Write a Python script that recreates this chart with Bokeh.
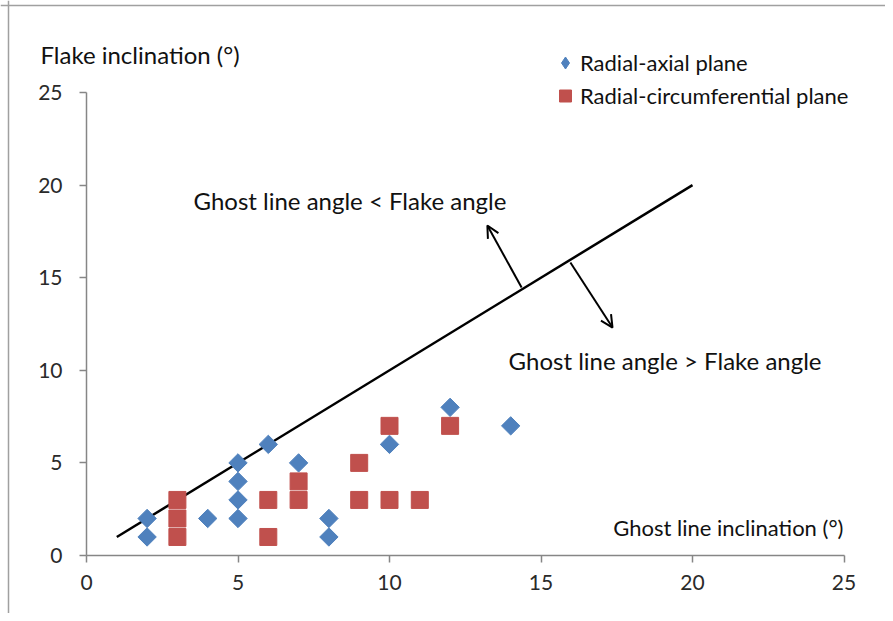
from bokeh.plotting import figure
from bokeh.models import (Range1d, Label, Arrow, OpenHead, Legend, LegendItem,
                          FixedTicker, LinearAxis, Span)
from bokeh.embed import file_html
from bokeh.resources import INLINE

# Data
axial_x = [2, 2, 4, 5, 5, 5, 5, 6, 7, 8, 8, 10, 12, 14]
axial_y = [1, 2, 2, 2, 3, 4, 5, 6, 5, 1, 2, 6, 8, 7]
circ_x = [3, 3, 3, 6, 6, 7, 7, 9, 9, 10, 10, 11, 12]
circ_y = [1, 2, 3, 1, 3, 3, 4, 3, 5, 3, 7, 3, 7]
line_x = [1, 20]
line_y = [1, 20]
x_ticks = [0, 5, 10, 15, 20, 25]
y_ticks = [0, 5, 10, 15, 20, 25]

BLUE = "#4F81BD"
RED = "#C0504D"
FONT = "Lato"
W, H = 885, 613
# frame covers the whole canvas; axes are placed at data 0 inside it
x0_px, xpu = 86.0, 30.3      # canvas x of data 0, px per unit
y0_px, ypu = 555.0, 18.52    # canvas y of data 0, px per unit
x_start = -x0_px / xpu
x_end = (W - x0_px) / xpu
y_start = -(H - y0_px) / ypu
y_end = y0_px / ypu

p = figure(width=W, height=H, x_range=Range1d(x_start, x_end), y_range=Range1d(y_start, y_end),
           output_backend="svg", toolbar_location=None,
           x_axis_location=None, y_axis_location=None,
           min_border=0)
p.grid.visible = False
p.outline_line_color = None
p.background_fill_color = "white"
p.border_fill_color = "white"

xax = LinearAxis(fixed_location=0, bounds=(0, 25), ticker=FixedTicker(ticks=x_ticks))
yax = LinearAxis(fixed_location=0, bounds=(0, 25), ticker=FixedTicker(ticks=y_ticks))
for ax in (xax, yax):
    ax.axis_line_color = "#868686"
    ax.axis_line_width = 1.5
    ax.major_tick_line_color = "#868686"
    ax.major_tick_line_width = 1.5
    ax.minor_tick_line_color = None
    ax.major_tick_in = 0
    ax.major_tick_out = 7
    ax.major_label_text_font = FONT
    ax.major_label_text_font_size = "21px"
    ax.major_label_text_color = "#2a2a2a"
xax.major_label_standoff = 12
yax.major_label_standoff = 17
p.add_layout(xax, "below")
p.add_layout(yax, "left")

# screenshot frame (top and left edges)
p.add_layout(Span(location=(y0_px - 5) / ypu, dimension="width", line_color="#a0a0a0", line_width=1.5))
p.add_layout(Span(location=(8 - x0_px) / xpu, dimension="height", line_color="#a0a0a0", line_width=1.5))

p.line(line_x, line_y, line_color="black", line_width=2.5)
p.scatter(axial_x, axial_y, marker="square", angle=0.785398, size=13,
          fill_color=BLUE, line_color=BLUE)
p.scatter(circ_x, circ_y, marker="square", size=17, fill_color=RED, line_color=RED)

# legend-only renderers (a single undrawable NaN point) so the legend shows a diamond and a square
nan = float("nan")
lg1 = p.scatter([nan], [nan], marker="diamond", fill_color=BLUE, line_color=BLUE)
lg2 = p.scatter([nan], [nan], marker="square", fill_color=RED, line_color=RED)

p.add_layout(Arrow(end=OpenHead(size=12, line_width=2), x_start=14.36, y_start=14.47,
                   x_end=13.23, y_end=17.82, line_width=2))
p.add_layout(Arrow(end=OpenHead(size=12, line_width=2), x_start=15.97, y_start=15.82,
                   x_end=17.36, y_end=12.31, line_width=2))

def lab(x, y, t, size, align="left"):
    p.add_layout(Label(x=x, y=y, text=t, text_font=FONT, text_font_size=size,
                       text_color="#111111", text_baseline="middle", text_align=align))

lab(3.53, 19.19, "Ghost line angle < Flake angle", "24px")
lab(13.93, 10.54, "Ghost line angle > Flake angle", "24px")
lab(24.98, 1.51, "Ghost line inclination (°)", "22px", "right")
lab(-1.52, 27.03, "Flake inclination (°)", "24px")

legend = Legend(items=[LegendItem(label="Radial-axial plane", renderers=[lg1]),
                       LegendItem(label="Radial-circumferential plane", renderers=[lg2])],
                location=(550, 501), padding=0, margin=0, spacing=0,
                glyph_width=30, glyph_height=33, label_height=33, label_standoff=0,
                border_line_color=None, background_fill_alpha=0,
                label_text_font=FONT, label_text_font_size="22px", label_text_color="#111111")
p.add_layout(legend, "center")

open("out.html", "w").write(file_html(p, INLINE))
